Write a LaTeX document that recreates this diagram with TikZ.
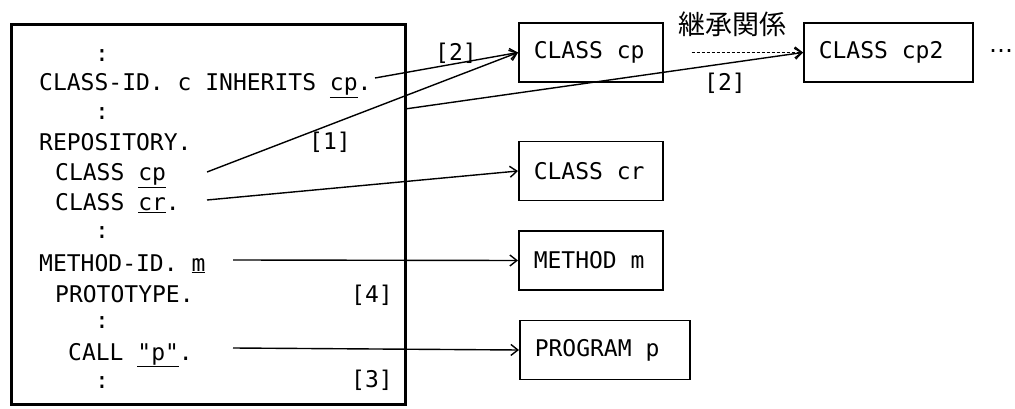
\documentclass[tikz,border=0pt]{standalone}
\usepackage{fontspec}
\usepackage{tikz}
\usetikzlibrary{positioning, arrows.meta, calc}
\newfontfamily\codefont{DejaVu Sans Mono}
\newfontfamily\symfont{DejaVu Sans}
\newfontfamily\jpfont{Noto Sans CJK JP}

\newcommand{\boxtext}[2]{\makebox[#1][l]{#2}}

\tikzset{
  code/.style={font=\codefont\fontsize{23}{28}\selectfont, inner sep=0pt},
  codeline/.style={code, anchor=base west},
  unitbox/.style={code, draw, line width=1.5pt, anchor=west, minimum height=59pt,
                  inner xsep=15pt},
  ref/.style={line width=1.4pt, -{Straight Barb[length=7pt, width=11pt]}},
}

\begin{document}
\begin{tikzpicture}[x=1pt, y=-1pt]
    \useasboundingbox (0,0) rectangle (1015,409);

    \node[draw, line width=3pt, outer sep=0pt, minimum width=394pt, minimum height=379pt,
          anchor=north west] (src) at (11,25) {};

    \foreach \y [count=\i] in {62,120,238,328,388}
      \node[code, anchor=base] (dots\i) at (102,\y) {:};
    \node[codeline] (inh) at (39,91) {CLASS-ID. c INHERITS \underline{cp}.};
    \node[codeline] (repo) at (39,151) {REPOSITORY.};
    \node[codeline] (clscp) at (55,181) {CLASS \underline{cp}};
    \node[codeline] (clscr) at (55,210) {CLASS \underline{cr}.};
    \node[codeline] (mid) at (39,271) {METHOD-ID. \underline{m}};
    \node[codeline] (proto) at (55,302) {PROTOTYPE.};
    \node[codeline] (call) at (68,360) {CALL \underline{"p"}.};

    \node[code] (num1) at (330,142) {[1]};
    \node[code] (num4) at (372,295) {[4]};
    \node[code] (num3) at (372,380) {[3]};

    \node[unitbox] (cp) at (518,52.5) {\boxtext{114pt}{CLASS cp}};
    \node[unitbox] (cp2) at (803,52.5) {\boxtext{139pt}{CLASS cp2}};
    \node[unitbox] (cr) at (518,171) {\boxtext{114pt}{CLASS cr}};
    \node[unitbox] (meth) at (518,260.5) {\boxtext{114pt}{METHOD m}};
    \node[unitbox] (prog) at (519,350) {\boxtext{140pt}{PROGRAM p}};
    \node[font=\symfont\fontsize{24}{24}\selectfont, inner sep=0pt] (more) at (1001,51) {…};

    \coordinate (inhOut) at (375,78);
    \coordinate (cpOut) at (207,172);
    \coordinate (crOut) at (207,200);
    \coordinate (midOut) at (233,260);
    \coordinate (callOut) at (233,348);
    \coordinate (srcOut) at (src.east |- 0,109);

    \draw[ref] (inhOut) -- (cp.west);
    \draw[ref] (cpOut) -- (cp.west);
    \draw[ref] (srcOut) -- (cp2.west);
    \draw[ref] (crOut) -- (cr.west);
    \draw[ref] (midOut) -- (meth.west);
    \draw[ref] (callOut) -- (prog.west);
    \draw[ref, dash pattern=on 3pt off 2pt] ([xshift=28pt]cp.east) -- (cp2.west);

    \node[code] (num2a) at (456,53) {[2]};
    \node[code] (num2b) at (725,83) {[2]};
    \node[font=\jpfont\fontsize{27}{27}\selectfont, inner sep=0pt] (inherit) at (732,24) {継承関係};
\end{tikzpicture}
\end{document}
